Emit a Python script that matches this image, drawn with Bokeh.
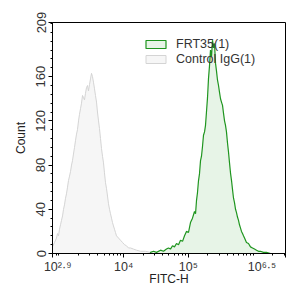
import numpy as np
from bokeh.plotting import figure
from bokeh.models import FixedTicker, Legend, LegendItem, Range1d
from bokeh.embed import file_html
from bokeh.resources import INLINE

# Control IgG(1): log10(FITC-H) and counts
ctrl_log = [2.900, 2.931, 2.962, 2.977, 2.993, 3.008, 3.024, 3.039, 3.055, 3.070,
            3.085, 3.101, 3.116, 3.132, 3.147, 3.163, 3.178, 3.194, 3.209, 3.224,
            3.240, 3.255, 3.271, 3.286, 3.302, 3.317, 3.333, 3.348, 3.364, 3.379,
            3.394, 3.410, 3.425, 3.441, 3.456, 3.472, 3.487, 3.503, 3.518, 3.533,
            3.549, 3.564, 3.580, 3.595, 3.611, 3.626, 3.642, 3.657, 3.673, 3.688,
            3.703, 3.719, 3.734, 3.750, 3.765, 3.781, 3.796, 3.812, 3.827, 3.842,
            3.858, 3.873, 3.889, 3.920, 3.951, 3.982, 4.012, 4.043, 4.074, 4.105,
            4.152, 4.198, 4.260, 4.337, 4.414, 4.491, 4.569]
ctrl_count = [6, 10, 14, 18, 16, 22, 26, 30, 34, 40,
              44, 50, 54, 60, 66, 70, 74, 80, 84, 90,
              96, 102, 108, 112, 120, 126, 131, 136, 143, 141,
              139, 145, 150, 152, 147, 153, 158, 163, 160, 155,
              149, 143, 137, 128, 120, 113, 104, 95, 88, 82,
              73, 64, 59, 52, 45, 40, 36, 32, 28, 25,
              22, 19, 16, 14, 12, 10, 8, 7, 5, 5,
              4, 3, 2, 2, 1, 1, 0]

# FRT35(1)
frt_log = [4.414, 4.461, 4.507, 4.569, 4.615, 4.661, 4.692, 4.723, 4.754, 4.785,
           4.816, 4.847, 4.878, 4.909, 4.940, 4.970, 5.001, 5.032, 5.063, 5.094,
           5.110, 5.125, 5.140, 5.156, 5.171, 5.187, 5.202, 5.218, 5.233, 5.249,
           5.264, 5.279, 5.295, 5.310, 5.326, 5.341, 5.357, 5.372, 5.388, 5.403,
           5.419, 5.434, 5.449, 5.465, 5.480, 5.496, 5.511, 5.527, 5.542, 5.558,
           5.573, 5.588, 5.604, 5.619, 5.635, 5.650, 5.666, 5.681, 5.697, 5.712,
           5.728, 5.743, 5.758, 5.774, 5.789, 5.805, 5.820, 5.836, 5.851, 5.867,
           5.882, 5.897, 5.928, 5.959, 5.990, 6.021, 6.052, 6.083, 6.114, 6.160,
           6.206, 6.268]
frt_count = [1, 2, 1, 3, 2, 4, 5, 4, 7, 6,
             9, 8, 12, 11, 16, 20, 19, 28, 32, 38,
             36, 48, 55, 66, 72, 84, 88, 97, 107, 110,
             116, 128, 141, 158, 170, 184, 178, 193, 186, 190,
             172, 165, 157, 152, 146, 140, 137, 134, 127, 120,
             116, 110, 100, 92, 82, 73, 66, 58, 50, 46,
             40, 37, 33, 30, 26, 23, 20, 18, 16, 14,
             12, 10, 9, 6, 5, 4, 3, 2, 2, 1,
             1, 0]

x_major = [2.9, 4.0, 5.0, 6.5]
x_major_labels = ["\u00a0\u00a0\u00a010\u00b2\u00b7\u2079",
                  "10\u2074",
                  "10\u2075",
                  "10\u2076\u00b7\u2075\u00a0\u00a0\u00a0\u00a0\u00a0"]
y_major = [0, 40, 80, 120, 160, 209]

FONT = "Liberation Sans"

p = figure(width=293, height=289, output_backend="svg", toolbar_location=None,
           x_range=Range1d(2.9, 6.5), y_range=Range1d(0, 209),
           min_border_left=52, min_border_right=8, min_border_top=22, min_border_bottom=36)
p.xgrid.visible = False
p.ygrid.visible = False
p.outline_line_color = "black"
p.outline_line_alpha = 1.0
p.background_fill_color = "white"
p.border_fill_color = "white"

# x axis: log-decade ticks
minor_x = []
for d in [2, 3, 4, 5, 6]:
    for k in range(1, 10):
        v = float(np.log10(k * 10.0 ** d))
        if 2.9 < v < 6.5 and v not in x_major:
            minor_x.append(v)
p.xaxis.ticker = FixedTicker(ticks=x_major, minor_ticks=minor_x)
p.xaxis.major_label_overrides = dict(zip(x_major, x_major_labels))
p.xaxis.major_label_text_font = FONT
p.xaxis.major_label_text_font_size = "12.5px"
p.xaxis.major_label_text_color = "#333333"
p.xaxis.major_label_standoff = 2
p.xaxis.axis_label = "FITC-H"
p.xaxis.axis_label_text_font = FONT
p.xaxis.axis_label_text_font_size = "12px"
p.xaxis.axis_label_text_font_style = "normal"
p.xaxis.axis_label_text_color = "#222222"
p.xaxis.axis_label_standoff = -5

p.yaxis.ticker = FixedTicker(ticks=y_major, minor_ticks=list(range(8, 209, 8)))
p.yaxis.major_label_orientation = "vertical"
p.yaxis.major_label_text_font = FONT
p.yaxis.major_label_text_font_size = "13px"
p.yaxis.major_label_text_color = "#333333"
p.yaxis.major_label_standoff = 3
p.yaxis.axis_label = "Count"
p.yaxis.axis_label_text_font = FONT
p.yaxis.axis_label_text_font_size = "12px"
p.yaxis.axis_label_text_font_style = "normal"
p.yaxis.axis_label_text_color = "#222222"
p.yaxis.axis_label_standoff = 6

for ax in (p.xaxis, p.yaxis):
    ax.axis_line_color = "black"
    ax.major_tick_line_color = "black"
    ax.minor_tick_line_color = "black"
    ax.major_tick_in = 0
    ax.major_tick_out = 4
    ax.minor_tick_in = 0
    ax.minor_tick_out = 2

# histograms as closed patches
cx = [ctrl_log[0]] + ctrl_log + [ctrl_log[-1]]
cy = [0] + ctrl_count + [0]
fx = [frt_log[0]] + frt_log + [frt_log[-1]]
fy = [0] + frt_count + [0]

r_ctrl = p.patch(cx, cy, fill_color="#f6f6f6", fill_alpha=1.0,
                 line_color="#d4d4d4", line_width=1)
r_frt = p.patch(fx, fy, fill_color="#e7f4e7", fill_alpha=1.0,
                line_color="#1f951f", line_width=1.2)

legend = Legend(items=[LegendItem(label="FRT35(1)", renderers=[r_frt]),
                       LegendItem(label="Control IgG(1)", renderers=[r_ctrl])],
                location=(91, 187))
legend.padding = 0
legend.margin = 0
legend.spacing = 1
legend.glyph_width = 25
legend.glyph_height = 10
legend.label_height = 14
legend.label_standoff = 8
legend.border_line_alpha = 0
legend.background_fill_alpha = 0
legend.label_text_font = FONT
legend.label_text_font_size = "12.5px"
legend.label_text_color = "#333333"
p.add_layout(legend, "center")

open("out.html", "w").write(file_html(p, INLINE))
